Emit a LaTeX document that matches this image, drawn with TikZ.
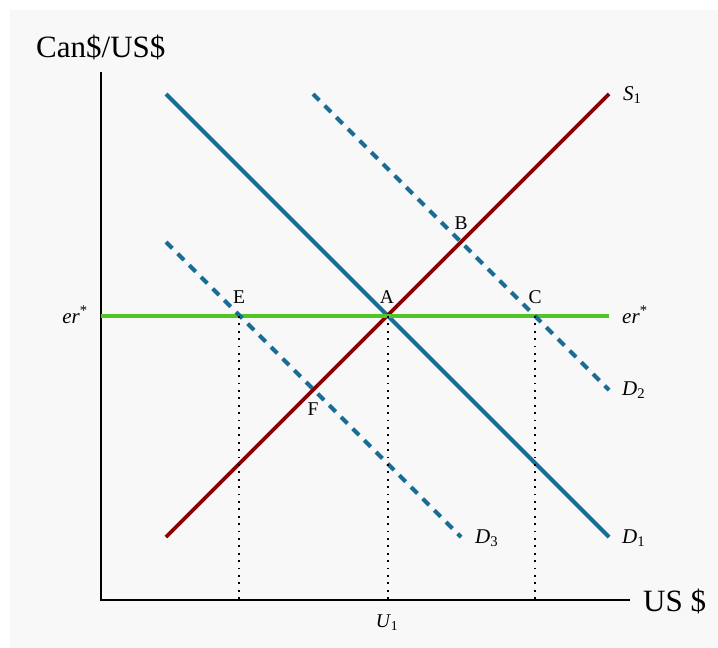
\documentclass[tikz,border=0pt]{standalone}
\usepackage{fontspec}
\setmainfont{Liberation Serif}
\usetikzlibrary{positioning}
\definecolor{demandblue}{RGB}{24,108,150}
\definecolor{supplyred}{RGB}{139,0,0}
\definecolor{rategreen}{RGB}{82,196,38}
\definecolor{panelgray}{RGB}{248,248,248}

\begin{document}
\begin{tikzpicture}[x=1pt,y=-1pt,line join=miter,
demand/.style={demandblue,line width=4pt},
shifted/.style={demand,dash pattern=on 9pt off 7.5pt},
supply/.style={supplyred,line width=3.8pt},
rate/.style={rategreen,line width=4.5pt},
guide/.style={line width=1.8pt,dash pattern=on 1.8pt off 5.6pt},
axis/.style={line width=2pt},
ptlabel/.style={font=\fontsize{19.5}{22}\selectfont,inner sep=0pt,anchor=base},
curvelabel/.style={font=\fontsize{21}{24}\selectfont,inner sep=0pt,anchor=base west},
axislabel/.style={font=\fontsize{31}{36}\selectfont,inner sep=0pt,anchor=base west}]
\useasboundingbox (0,0) rectangle (718,648);
\fill[panelgray] (10,10) rectangle (718,648);
% axes
\coordinate (O) at (101,600);
\coordinate (ytop) at (101,72);
\coordinate (xend) at (630,600);
\draw[axis] (ytop) -- (O) -- (xend);
\node[axislabel] (yname) at (36,57) {Can\$/US\$};
\node[axislabel] (xname) at (643,611) {US \$};
% curve ends
\coordinate (d1a) at (166,94);\coordinate (d1b) at (609,537);
\coordinate (s1a) at (166,537);\coordinate (s1b) at (609,94);
\coordinate (d2a) at (313,94);\coordinate (d2b) at (609,390);
\coordinate (d3a) at (166,242);\coordinate (d3b) at (461,537);
\coordinate (era) at (101,316);\coordinate (erb) at (609,316);
% equilibria on er*
\coordinate (E) at (239,316);\coordinate (A) at (388,316);\coordinate (C) at (535,316);
\draw[demand] (d1a) -- (d1b);
\draw[supply] (s1a) -- (s1b);
\draw[rate] (era) -- (erb);
\draw[shifted] (d2a) -- (d2b);
\draw[shifted] (d3a) -- (d3b);
\foreach \p in {E,A,C}{\draw[guide] (\p) -- (\p |- O);}
% labels
\node[curvelabel] (s1name) at (623,100) {\textit{S}\textsubscript{1}};
\node[curvelabel] (d1name) at (622,543) {\textit{D}\textsubscript{1}};
\node[curvelabel] (d2name) at (622,395) {\textit{D}\textsubscript{2}};
\node[curvelabel] (d3name) at (475,543) {\textit{D}\textsubscript{3}};
\node[curvelabel] (erright) at (622,323) {\textit{er}\textsuperscript{*}};
\node[curvelabel,anchor=base east] (erleft) at (88,323) {\textit{er}\textsuperscript{*}};
\node[ptlabel] (labA) at (387,303) {A};
\node[ptlabel] (labB) at (461,229) {B};
\node[ptlabel] (labC) at (535,303) {C};
\node[ptlabel] (labE) at (239,303) {E};
\node[ptlabel] (labF) at (313,415) {F};
\node[ptlabel] (u1name) at (387,627) {\textit{U}\textsubscript{1}};
\end{tikzpicture}
\end{document}
